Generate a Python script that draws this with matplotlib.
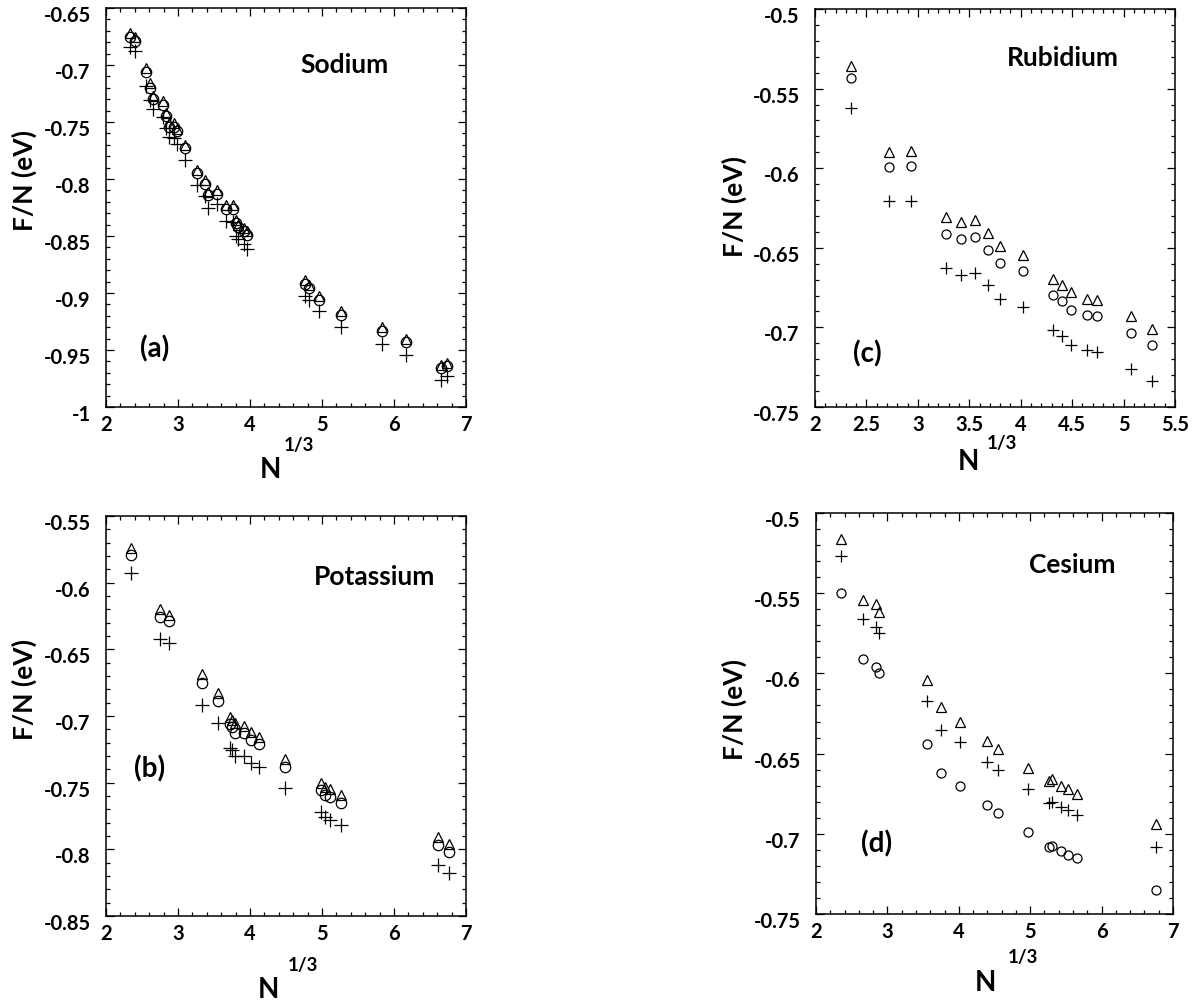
import matplotlib
matplotlib.use("Agg")
import matplotlib.pyplot as plt
from matplotlib.ticker import MultipleLocator, FuncFormatter
from matplotlib.transforms import ScaledTranslation

plt.rcParams['font.family'] = ['Lato', 'DejaVu Sans']
plt.rcParams['font.weight'] = 'bold'

# ---- Sodium ----
na_x = [2.33, 2.40, 2.55, 2.61, 2.65, 2.79, 2.83, 2.87, 2.94, 2.99, 3.10, 3.26, 3.37,
        3.41, 3.54, 3.67, 3.77, 3.80, 3.84, 3.91, 3.96, 4.76, 4.82, 4.96, 5.26, 5.84,
        6.17, 6.65, 6.74]
na_tri = [-0.672, -0.675, -0.703, -0.716, -0.727, -0.732, -0.742, -0.751, -0.751, -0.756,
          -0.770, -0.792, -0.801, -0.811, -0.810, -0.823, -0.823, -0.836, -0.840, -0.843,
          -0.846, -0.889, -0.893, -0.903, -0.916, -0.930, -0.940, -0.963, -0.961]
na_circ = [-0.675, -0.679, -0.706, -0.720, -0.730, -0.735, -0.745, -0.754, -0.754, -0.758,
           -0.773, -0.795, -0.804, -0.814, -0.813, -0.826, -0.826, -0.839, -0.842, -0.846,
           -0.849, -0.892, -0.896, -0.906, -0.919, -0.933, -0.943, -0.966, -0.964]
na_plus = [-0.684, -0.688, -0.718, -0.731, -0.739, -0.746, -0.755, -0.763, -0.764, -0.769,
           -0.783, -0.805, -0.815, -0.825, -0.822, -0.837, -0.838, -0.850, -0.853, -0.857,
           -0.861, -0.903, -0.906, -0.916, -0.930, -0.945, -0.954, -0.976, -0.973]

# ---- Potassium ----
k_x = [2.35, 2.75, 2.88, 3.33, 3.55, 3.72, 3.75, 3.79, 3.91, 4.01, 4.12, 4.48, 4.98,
       5.04, 5.11, 5.26, 6.61, 6.76]
k_tri = [-0.574, -0.620, -0.624, -0.6685, -0.683, -0.7005, -0.703, -0.7055, -0.7075,
         -0.712, -0.7155, -0.7325, -0.750, -0.7535, -0.755, -0.759, -0.7905, -0.796]
k_circ = [-0.579, -0.6255, -0.629, -0.675, -0.6885, -0.706, -0.7085, -0.713, -0.713,
          -0.718, -0.721, -0.738, -0.7555, -0.759, -0.761, -0.765, -0.797, -0.802]
k_plus = [-0.593, -0.642, -0.6455, -0.692, -0.7055, -0.724, -0.7255, -0.730, -0.730,
          -0.7355, -0.738, -0.754, -0.772, -0.7755, -0.778, -0.782, -0.812, -0.818]

# ---- Rubidium ----
rb_x = [2.35, 2.72, 2.93, 3.27, 3.42, 3.56, 3.68, 3.80, 4.025, 4.31, 4.40, 4.485, 4.64,
        4.74, 5.07, 5.28]
rb_tri = [-0.536, -0.590, -0.589, -0.6307, -0.6338, -0.6326, -0.6407, -0.6491, -0.6548,
          -0.6694, -0.6732, -0.678, -0.6822, -0.683, -0.6931, -0.701]
rb_circ = [-0.5433, -0.5995, -0.5989, -0.6411, -0.6443, -0.6432, -0.6512, -0.6596, -0.6648,
           -0.6795, -0.6837, -0.6889, -0.692, -0.693, -0.7035, -0.7113]
rb_plus = [-0.5622, -0.6209, -0.6204, -0.6627, -0.6669, -0.6658, -0.6736, -0.6822, -0.6872,
           -0.7019, -0.7057, -0.7109, -0.714, -0.7155, -0.726, -0.7339]

# ---- Cesium ----
cs_x = [2.345, 2.66, 2.84, 2.88, 3.55, 3.75, 4.01, 4.39, 4.55, 4.97, 5.26, 5.31, 5.43,
        5.53, 5.65, 6.76]
cs_tri = [-0.516, -0.554, -0.557, -0.562, -0.604, -0.621, -0.630, -0.642, -0.647, -0.659,
          -0.667, -0.666, -0.670, -0.672, -0.675, -0.694]
cs_plus = [-0.527, -0.566, -0.571, -0.575, -0.6175, -0.635, -0.643, -0.655, -0.660, -0.672,
           -0.681, -0.680, -0.683, -0.685, -0.688, -0.708]
cs_circ = [-0.550, -0.591, -0.596, -0.600, -0.644, -0.662, -0.670, -0.682, -0.687, -0.699,
           -0.708, -0.7075, -0.711, -0.713, -0.715, -0.735]

W, H = 1197, 1007
fig = plt.figure(figsize=(W / 100, H / 100), dpi=100)


def box(left, top, right, bottom):
    return [left / W, 1 - bottom / H, (right - left) / W, (bottom - top) / H]


def fpos(x, y):
    return x / W, 1 - y / H


panels = [
    dict(rect=box(106, 8, 466, 407), x=na_x, ys=(na_tri, na_circ, na_plus),
         xlim=(2, 7), ylim=(-1, -0.65), xmaj=1, xmin=0.2, ms=7.5,
         name="Sodium", name_pos=(345, 65), tag="(a)", tag_pos=(155, 349),
         n_pos=(270, 470), exp_pos=(299, 445), ylab_pos=(24, 180)),
    dict(rect=box(106, 516, 466, 916), x=k_x, ys=(k_tri, k_circ, k_plus),
         xlim=(2, 7), ylim=(-0.85, -0.55), xmaj=1, xmin=0.2, ms=7.5,
         name="Potassium", name_pos=(375, 577), tag="(b)", tag_pos=(150, 769),
         n_pos=(268, 990), exp_pos=(303, 966), ylab_pos=(24, 690)),
    dict(rect=box(815, 9, 1175, 407), x=rb_x, ys=(rb_tri, rb_circ, rb_plus),
         xlim=(2, 5.5), ylim=(-0.75, -0.5), xmaj=0.5, xmin=0.1, ms=6.5,
         name="Rubidium", name_pos=(1063, 58), tag="(c)", tag_pos=(867, 354),
         n_pos=(968, 462), exp_pos=(1002, 443), ylab_pos=(734, 207)),
    dict(rect=box(816, 513, 1173, 914), x=cs_x, ys=(cs_tri, cs_circ, cs_plus),
         xlim=(2, 7), ylim=(-0.75, -0.5), xmaj=1, xmin=0.2, ms=6.5,
         name="Cesium", name_pos=(1072, 565), tag="(d)", tag_pos=(877, 844),
         n_pos=(985, 983), exp_pos=(1023, 958), ylab_pos=(734, 710)),
]

fmt = FuncFormatter(lambda v, p: f"{v:g}")

for p in panels:
    ax = fig.add_axes(p["rect"])
    tri, circ, plus = p["ys"]
    ms = p["ms"]
    ax.plot(p["x"], tri, linestyle="none", marker="^", ms=ms, mfc="none",
            mec="black", mew=0.9)
    ax.plot(p["x"], circ, linestyle="none", marker="o", ms=ms, mfc="none",
            mec="black", mew=0.9)
    ax.plot(p["x"], plus, linestyle="none", marker="+", ms=ms + 2, mec="black",
            mew=0.9)

    ax.set_xlim(*p["xlim"])
    ax.set_ylim(*p["ylim"])
    ax.xaxis.set_major_locator(MultipleLocator(p["xmaj"]))
    ax.xaxis.set_minor_locator(MultipleLocator(p["xmin"]))
    ax.yaxis.set_major_locator(MultipleLocator(0.05))
    ax.yaxis.set_minor_locator(MultipleLocator(0.01))
    ax.xaxis.set_major_formatter(fmt)
    ax.yaxis.set_major_formatter(fmt)

    ax.tick_params(which="both", direction="in", top=True, right=True,
                   width=0.9, labelsize=14.5)
    ax.tick_params(which="major", length=5.5)
    ax.tick_params(which="minor", length=3)
    ax.tick_params(axis="y", pad=11)
    ax.tick_params(axis="x", pad=6)
    for s in ax.spines.values():
        s.set_linewidth(1.1)
    for lab in ax.get_yticklabels():
        lab.set_fontweight("bold")
        lab.set_transform(lab.get_transform() +
                          ScaledTranslation(0, -6 / 100, fig.dpi_scale_trans))
    for lab in ax.get_xticklabels():
        lab.set_fontweight("bold")

    fig.text(*fpos(*p["name_pos"]), p["name"], ha="center", va="center",
             fontsize=19, fontweight="bold")
    fig.text(*fpos(*p["tag_pos"]), p["tag"], ha="center", va="center",
             fontsize=20, fontweight="bold")
    fig.text(*fpos(*p["n_pos"]), "N", ha="center", va="center",
             fontsize=20, fontweight="bold")
    fig.text(*fpos(*p["exp_pos"]), "1/3", ha="center", va="center",
             fontsize=13.5, fontweight="bold")
    fig.text(*fpos(*p["ylab_pos"]), "F/N (eV)", ha="center", va="center",
             rotation=90, fontsize=19, fontweight="bold")

fig.savefig("out.png", dpi=100)
